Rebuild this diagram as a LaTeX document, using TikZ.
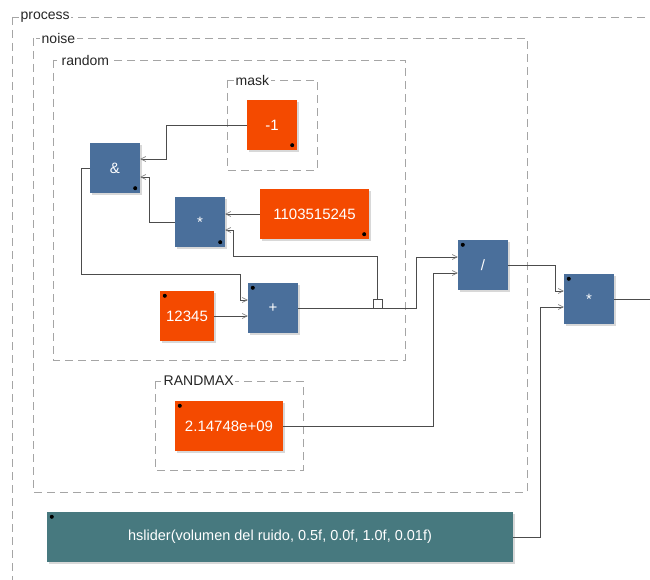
\documentclass[tikz,border=0pt]{standalone}
\usepackage{fontspec}
\setmainfont{Liberation Sans}
\usetikzlibrary{arrows.meta,shadows}

\definecolor{blockblue}{RGB}{74,111,155}
\definecolor{numorange}{RGB}{244,74,0}
\definecolor{sliderteal}{RGB}{71,121,127}
\definecolor{boxgray}{RGB}{165,165,165}

\tikzset{
  blk/.style={minimum width=50pt, minimum height=50pt, inner sep=0pt, text=white,
    font=\fontsize{15}{17}\selectfont,
    drop shadow={shadow xshift=2pt, shadow yshift=-2pt, opacity=.3}},
  op/.style={blk, fill=blockblue},
  num/.style={blk, fill=numorange},
  wire/.style={draw=black!70, line width=0.6pt},
  arr/.style={wire, -{Straight Barb[length=5pt,width=5pt,color=gray]}},
  grp/.style={draw=boxgray, dash pattern=on 8pt off 5pt, line width=0.8pt},
  grplabel/.style={fill=white, inner sep=1.5pt, anchor=west,
    font=\fontsize{14}{16}\selectfont, text=black!85}
}

\begin{document}
\begin{tikzpicture}[x=1pt,y=-1pt]
	\useasboundingbox (0,0) rectangle (650,580);
	\clip (0,0) rectangle (650,580);
	\fill[white] (0,0) rectangle (650,580);

	% groups
	\draw[grp] (12,17) rectangle (700,640);
	\node[grplabel] (lprocess) at (19,17) {process};
	\draw[grp] (33,38) rectangle (527,492);
	\node[grplabel] (lnoise) at (40,38) {noise};
	\draw[grp] (53,60) rectangle (405,360);
	\node[grplabel] (lrandom) at (60,60) {random};
	\draw[grp] (227,80) rectangle (317,170);
	\node[grplabel] (lmask) at (234,80) {mask};
	\draw[grp] (155,381) rectangle (303,470);
	\node[grplabel] (lrandmax) at (162,381) {RANDMAX};

	% blocks
	\node[num] (mone) at (272,125) {-1};
	\node[op] (amp) at (115,168) {\&};
	\node[op] (mul) at (200,222) {*};
	\node[num, minimum width=109pt] (big) at (314.5,214) {1103515245};
	\node[num, minimum width=54pt] (seed) at (187,316) {12345};
	\node[op] (plus) at (273,308) {+};
	\node[op] (div) at (483,265) {/};
	\node[op] (mul2) at (589,299) {*};
	\node[num, minimum width=108pt] (rmax) at (229,426) {2.14748e+09};
	\node[blk, fill=sliderteal, minimum width=466pt, font=\fontsize{14.5}{16}\selectfont] (slider) at (280,537)
		{hslider(volumen del ruido, 0.5f, 0.0f, 1.0f, 0.01f)};
	\coordinate (out) at (650,299);

	\foreach \n in {mone,amp,mul,big}
		\fill ([shift={(-5pt,5pt)}]\n.south east) circle (2pt);
	\foreach \n in {seed,plus,div,mul2,rmax,slider}
		\fill ([shift={(5pt,-5pt)}]\n.north west) circle (2pt);

	% wires
	\draw[arr] (mone.west) -- ++(-81,0) |- ([yshift=9pt]amp.east);
	\draw[arr] (mul.west) -- ++(-26,0) |- ([yshift=-9pt]amp.east);
	\draw[arr] (big.west) -- ([yshift=8pt]mul.east);
	\draw[wire] (plus.east) -- ++(118,0);
	\node[draw=black!70, fill=white, line width=0.6pt, minimum size=9pt, inner sep=0pt] (mem) at (377.5,303.5) {};
	\draw[arr] (mem.north) -- ++(0,-42) -| ([xshift=8pt,yshift=-8pt]mul.east) -- ([yshift=-8pt]mul.east);
	\draw[arr] (amp.west) -- ++(-9,0) -- ++(0,106) -| ([xshift=-8pt,yshift=8pt]plus.west) -- ([yshift=8pt]plus.west);
	\draw[arr] (seed.east) -- ([yshift=-8pt]plus.west);
	\draw[arr] (plus.east) -- ++(118,0) |- ([yshift=8pt]div.west);
	\draw[arr] (rmax.east) -- ++(150,0) |- ([yshift=-8pt]div.west);
	\draw[arr] (div.east) -- ++(47,0) |- ([yshift=8pt]mul2.west);
	\draw[arr] (slider.east) -- ++(27,0) |- ([yshift=-8pt]mul2.west);
	\draw[wire] (mul2.east) -- (out);
\end{tikzpicture}
\end{document}
